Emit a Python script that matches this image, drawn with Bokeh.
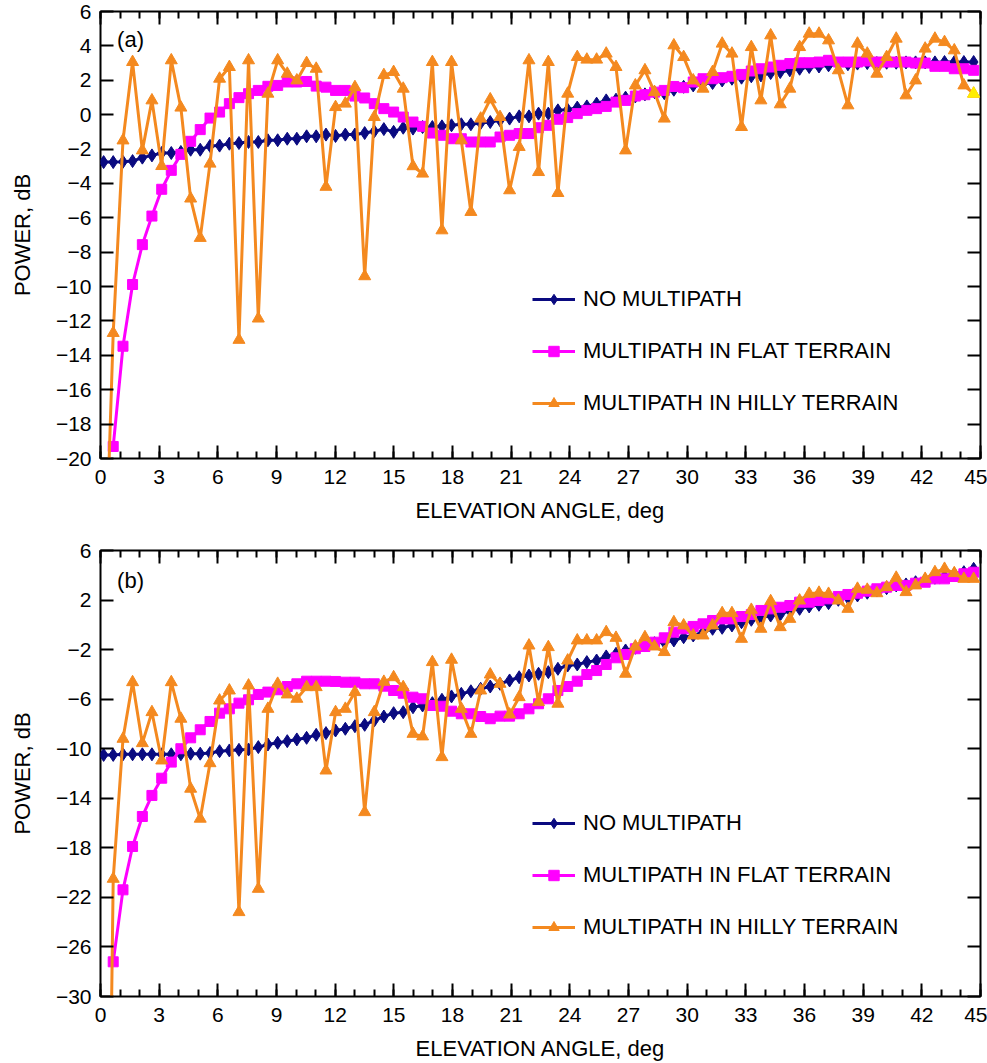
from bokeh.plotting import figure
from bokeh.models import (FixedTicker, LinearAxis, Range1d, Legend, LegendItem,
                          Label, CustomJSTickFormatter)
from bokeh.layouts import column
from bokeh.embed import file_html
from bokeh.resources import INLINE

nan = float("nan")

# Elevation angles of the samples (deg)
ANGLE_DEG = [
    0.16, 0.65, 1.15, 1.64, 2.14, 2.63, 3.13, 3.62, 4.11, 4.61,
    5.10, 5.60, 6.09, 6.59, 7.08, 7.57, 8.07, 8.56, 9.06, 9.55,
    10.04, 10.54, 11.03, 11.53, 12.02, 12.52, 13.01, 13.51, 14.00, 14.49,
    14.99, 15.48, 15.98, 16.47, 16.97, 17.46, 17.95, 18.45, 18.94, 19.44,
    19.93, 20.43, 20.92, 21.41, 21.91, 22.40, 22.90, 23.39, 23.89, 24.38,
    24.87, 25.37, 25.86, 26.36, 26.85, 27.35, 27.84, 28.33, 28.83, 29.32,
    29.82, 30.31, 30.81, 31.30, 31.79, 32.29, 32.78, 33.28, 33.77, 34.27,
    34.76, 35.25, 35.75, 36.24, 36.74, 37.23, 37.73, 38.22, 38.71, 39.21,
    39.70, 40.20, 40.69, 41.19, 41.68, 42.17, 42.67, 43.16, 43.66, 44.15,
    44.65,
]

# Panel (a): received power, dB
A_NO_MP = [
    -2.76, -2.76, -2.74, -2.70, -2.50, -2.37, -2.23, -2.23, -2.17, -2.04,
    -2.04, -1.82, -1.80, -1.69, -1.65, -1.59, -1.59, -1.49, -1.49, -1.40,
    -1.40, -1.26, -1.26, -1.16, -1.24, -1.16, -1.16, -1.07, -0.97, -0.84,
    -1.00, -0.76, -0.81, -0.72, -0.72, -0.68, -0.62, -0.56, -0.56, -0.49,
    -0.43, -0.33, -0.23, -0.10, -0.10, 0.06, 0.06, 0.25, 0.29, 0.41,
    0.48, 0.64, 0.83, 0.87, 0.99, 1.06, 1.18, 1.31, 1.25, 1.45,
    1.62, 1.70, 1.80, 1.84, 1.99, 2.09, 2.15, 2.23, 2.28, 2.42,
    2.48, 2.58, 2.67, 2.77, 2.80, 2.87, 2.93, 2.93, 2.97, 3.00,
    3.00, 3.02, 3.02, 3.04, 3.04, 3.04, 3.04, 3.06, 3.06, 3.06,
    3.06,
]
A_FLAT = [
    nan, -19.30, -13.47, -9.88, -7.56, -5.90, -4.34, -3.24, -2.31, -1.55,
    -0.87, -0.20, 0.15, 0.64, 0.99, 1.22, 1.41, 1.65, 1.70, 1.90,
    1.90, 1.93, 1.66, 1.60, 1.41, 1.41, 1.08, 0.97, 0.64, 0.35,
    0.15, -0.14, -0.43, -0.68, -1.07, -1.20, -1.40, -1.40, -1.59, -1.59,
    -1.59, -1.30, -1.20, -1.10, -1.10, -0.76, -0.62, -0.27, -0.17, 0.06,
    0.25, 0.35, 0.48, 0.73, 0.83, 1.08, 1.16, 1.31, 1.41, 1.64,
    1.57, 1.90, 2.09, 2.09, 2.15, 2.23, 2.34, 2.54, 2.67, 2.77,
    2.87, 2.97, 3.02, 3.02, 3.06, 3.16, 3.06, 3.06, 3.06, 3.12,
    3.06, 3.06, 3.06, 3.06, 3.00, 3.00, 2.81, 2.81, 2.67, 2.67,
    2.58,
]
A_HILLY = [
    -30.0, -12.70, -1.50, 3.06, -2.08, 0.83, -2.99, 3.16, 0.41, -4.88,
    -7.17, -2.85, 2.09, 2.77, -13.10, 3.16, -11.86, 1.22, 3.16, 2.38,
    1.99, 3.00, 2.67, -4.20, 0.44, 0.64, 1.60, -9.40, -0.14, 2.30,
    2.48, 1.51, -3.00, -3.43, 3.06, -6.73, 3.06, -1.49, -5.66, -0.23,
    0.89, -0.14, -4.40, -1.88, 3.16, -3.34, 3.06, -4.56, 1.22, 3.35,
    3.20, 3.20, 3.55, 2.77, -2.08, 1.70, 2.58, 1.31, -0.23, 4.03,
    3.35, 1.99, 1.51, 2.48, 4.13, 3.55, -0.72, 3.93, 0.83, 4.61,
    0.60, 1.51, 3.93, 4.71, 4.71, 4.32, 2.58, 0.54, 4.13, 3.55,
    2.38, 3.35, 4.42, 1.12, 1.99, 3.84, 4.42, 4.22, 3.74, 1.70,
    1.22,
]

# Panel (b): received power, dB
B_NO_MP = [
    -10.50, -10.50, -10.45, -10.45, -10.45, -10.45, -10.45, -10.45, -10.45, -10.40,
    -10.40, -10.35, -10.20, -10.14, -10.09, -10.06, -9.87, -9.66, -9.52, -9.39,
    -9.25, -9.12, -8.88, -8.74, -8.53, -8.39, -8.18, -8.07, -7.72, -7.40,
    -7.13, -7.05, -6.65, -6.51, -6.32, -6.05, -5.78, -5.57, -5.36, -5.16,
    -4.98, -4.76, -4.49, -4.23, -4.09, -3.95, -3.82, -3.55, -3.28, -3.20,
    -3.01, -2.88, -2.55, -2.34, -2.07, -1.85, -1.67, -1.48, -1.40, -1.26,
    -1.00, -0.86, -0.59, -0.32, -0.24, -0.05, 0.21, 0.41, 0.57, 0.75,
    0.83, 1.16, 1.29, 1.48, 1.62, 1.75, 2.02, 2.18, 2.37, 2.59,
    2.77, 2.96, 3.18, 3.26, 3.44, 3.63, 3.80, 3.90, 4.12, 4.25,
    4.52,
]
B_FLAT = [
    nan, -27.20, -21.39, -17.89, -15.47, -13.77, -12.38, -11.08, -10.00, -9.12,
    -8.47, -7.80, -7.13, -6.78, -6.32, -6.05, -5.62, -5.43, -5.24, -4.98,
    -4.76, -4.55, -4.55, -4.55, -4.57, -4.63, -4.63, -4.76, -4.76, -4.95,
    -5.30, -5.52, -5.84, -5.97, -6.51, -6.57, -6.97, -7.18, -7.18, -7.40,
    -7.58, -7.37, -7.37, -7.18, -6.78, -6.37, -5.97, -5.30, -4.98, -4.55,
    -4.01, -3.69, -3.20, -2.66, -2.39, -1.93, -1.75, -1.40, -1.05, -0.59,
    -0.32, -0.13, 0.08, 0.35, 0.48, 0.48, 0.67, 0.83, 1.16, 1.29,
    1.42, 1.56, 1.83, 1.83, 1.96, 2.10, 2.29, 2.45, 2.55, 2.72,
    2.91, 3.04, 3.18, 3.18, 3.36, 3.44, 3.71, 3.71, 3.90, 4.12,
    4.25,
]
B_HILLY = [
    -80.0, -20.50, -9.20, -4.63, -9.55, -7.05, -10.95, -4.63, -7.58, -13.23,
    -15.65, -11.17, -6.11, -5.30, -23.19, -4.90, -21.31, -6.78, -4.76, -5.62,
    -5.97, -5.03, -5.03, -11.76, -7.05, -6.78, -5.43, -15.12, -7.05, -4.60,
    -4.23, -5.03, -8.80, -9.01, -3.01, -10.68, -2.82, -6.78, -8.80, -5.30,
    -4.01, -4.76, -7.24, -5.84, -1.67, -6.24, -1.80, -6.37, -2.88, -1.26,
    -1.26, -1.26, -0.59, -1.05, -3.95, -1.75, -1.00, -1.75, -2.20, 0.21,
    -0.05, -0.86, -0.86, -0.05, 0.94, 0.94, -1.13, 1.21, -0.32, 1.91,
    -0.19, 0.48, 1.96, 2.50, 2.59, 2.50, 1.96, 1.29, 2.91, 2.83,
    2.55, 3.04, 3.80, 2.64, 3.18, 3.71, 4.25, 4.52, 4.17, 3.71,
    3.71,
]

SERIES_NAMES = ["NO MULTIPATH", "MULTIPATH IN FLAT TERRAIN", "MULTIPATH IN HILLY TERRAIN"]
X_TICKS = [0, 3, 6, 9, 12, 15, 18, 21, 24, 27, 30, 33, 36, 39, 42, 45]
X_MINOR = list(range(0, 46))
A_Y_TICKS = [-20, -18, -16, -14, -12, -10, -8, -6, -4, -2, 0, 2, 4, 6]
B_Y_TICKS = [-30, -26, -22, -18, -14, -10, -6, -2, 2, 6]

NAVY = "#0a0a80"
MAGENTA = "#ff00ff"
ORANGE = "#f4891f"
FONT = "Liberation Sans"


def minus(t):
    return str(t).replace("-", "\u2212")


def style_axis(ax, size="21px"):
    ax.axis_line_color = None
    ax.major_tick_in = 13
    ax.major_tick_out = 0
    ax.minor_tick_in = 7
    ax.minor_tick_out = 0
    ax.major_tick_line_width = 2
    ax.minor_tick_line_width = 2
    ax.major_tick_line_color = "black"
    ax.minor_tick_line_color = "black"
    ax.major_label_text_font = FONT
    ax.major_label_text_font_size = size
    ax.major_label_text_color = "black"
    ax.axis_label_text_font = FONT
    ax.axis_label_text_font_size = "22px"
    ax.axis_label_text_font_style = "normal"
    ax.axis_label_text_color = "black"


def panel(no_mp, flat, hilly, y_lo, y_hi, y_ticks, tag, tag_y, frame_h,
          border_top, border_bottom, legend_y, highlight_last):
    p = figure(frame_width=880, frame_height=frame_h,
               x_range=Range1d(0, 45), y_range=Range1d(y_lo, y_hi),
               output_backend="svg", toolbar_location=None,
               min_border_left=100, min_border_right=7,
               min_border_top=border_top, min_border_bottom=border_bottom,
               x_axis_label="ELEVATION ANGLE, deg", y_axis_label="POWER, dB",
               background_fill_color="white", border_fill_color="white")
    p.grid.visible = False
    p.outline_line_color = "black"
    p.outline_line_width = 2
    p.outline_line_alpha = 1

    xt = FixedTicker(ticks=X_TICKS, minor_ticks=X_MINOR)
    yt = FixedTicker(ticks=y_ticks, minor_ticks=[])
    p.xaxis.ticker = xt
    p.yaxis.ticker = yt
    p.xaxis.major_label_overrides = {t: minus(t) for t in X_TICKS}
    p.yaxis.major_label_overrides = {t: minus(t) for t in y_ticks}
    for ax in p.xaxis + p.yaxis:
        style_axis(ax)
    p.xaxis.major_label_standoff = 11
    p.yaxis.major_label_standoff = 9
    p.xaxis.axis_label_standoff = 11
    p.yaxis.axis_label_standoff = 18

    # tick marks mirrored on the top and right edges
    blank = CustomJSTickFormatter(code="return ''")
    top = LinearAxis(ticker=FixedTicker(ticks=X_TICKS, minor_ticks=X_MINOR),
                     formatter=blank, major_label_standoff=0)
    right = LinearAxis(ticker=FixedTicker(ticks=y_ticks, minor_ticks=[]),
                       formatter=blank, major_label_standoff=0)
    for ax in (top, right):
        style_axis(ax, size="0px")
    p.add_layout(top, "above")
    p.add_layout(right, "right")

    l1 = p.line(ANGLE_DEG, no_mp, line_color=NAVY, line_width=3)
    s1 = p.scatter(ANGLE_DEG, no_mp, marker="diamond", size=13,
                   fill_color=NAVY, line_color=NAVY)
    l2 = p.line(ANGLE_DEG, flat, line_color=MAGENTA, line_width=3)
    s2 = p.scatter(ANGLE_DEG, flat, marker="square", size=10,
                   fill_color=MAGENTA, line_color=MAGENTA)
    l3 = p.line(ANGLE_DEG, hilly, line_color=ORANGE, line_width=3)
    s3 = p.scatter(ANGLE_DEG, hilly, marker="triangle", size=12,
                   fill_color=ORANGE, line_color=ORANGE)
    if highlight_last:
        p.scatter(ANGLE_DEG[-1:], hilly[-1:], marker="triangle", size=12,
                  fill_color="#ffee00", line_color="#ffee00")

    legend = Legend(items=[
        LegendItem(label=SERIES_NAMES[0], renderers=[l1, s1]),
        LegendItem(label=SERIES_NAMES[1], renderers=[l2, s2]),
        LegendItem(label=SERIES_NAMES[2], renderers=[l3, s3]),
    ], location=(432, legend_y), orientation="vertical", spacing=26,
        glyph_width=43, glyph_height=26, label_height=26, label_standoff=8,
        padding=0, margin=0, border_line_color=None, background_fill_alpha=0,
        label_text_font=FONT, label_text_font_size="22px",
        label_text_color="black")
    p.add_layout(legend)

    p.add_layout(Label(x=0.85, y=tag_y, text=tag, text_baseline="middle",
                       text_font=FONT, text_font_size="22px", text_color="black"))
    return p


pa = panel(A_NO_MP, A_FLAT, A_HILLY, -20, 6, A_Y_TICKS, "(a)", 4.4, 447,
           11, 80, 42, True)
pb = panel(B_NO_MP, B_FLAT, B_HILLY, -30, 6, B_Y_TICKS, "(b)", 3.6, 446,
           12, 67, 56, False)

layout = column(pa, pb, spacing=0)
open("out.html", "w").write(file_html(layout, INLINE))
